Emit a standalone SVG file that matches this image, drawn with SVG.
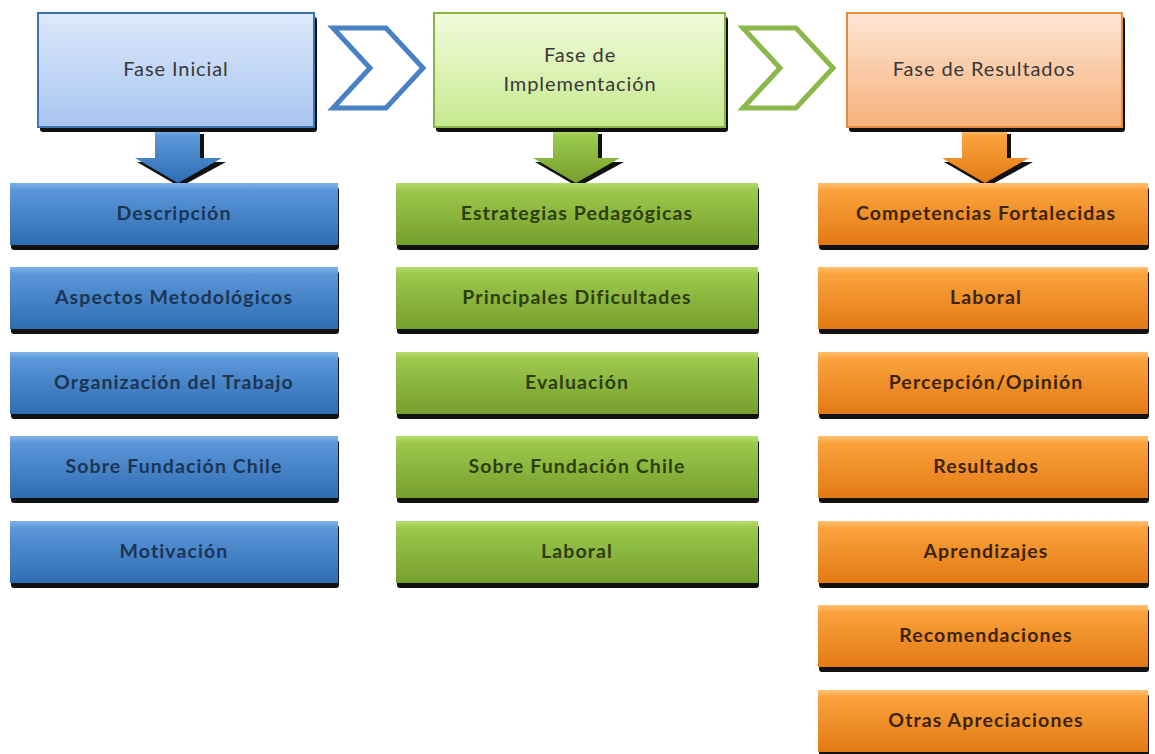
<svg xmlns="http://www.w3.org/2000/svg" width="1155" height="754" viewBox="0 0 1155 754">
<defs>
<linearGradient id="hb" x1="0" y1="0" x2="0" y2="1"><stop offset="0" stop-color="#dde9fb"/><stop offset="1" stop-color="#a8c5f0"/></linearGradient>
<linearGradient id="hg" x1="0" y1="0" x2="0" y2="1"><stop offset="0" stop-color="#f2fbdc"/><stop offset="1" stop-color="#c6e98e"/></linearGradient>
<linearGradient id="ho" x1="0" y1="0" x2="0" y2="1"><stop offset="0" stop-color="#fde6d4"/><stop offset="1" stop-color="#f7b07a"/></linearGradient>
<linearGradient id="bb" x1="0" y1="0" x2="0" y2="1"><stop offset="0" stop-color="#7fb2ea"/><stop offset="0.12" stop-color="#5a96d8"/><stop offset="1" stop-color="#2f6db3"/></linearGradient>
<linearGradient id="bg" x1="0" y1="0" x2="0" y2="1"><stop offset="0" stop-color="#b5dc6a"/><stop offset="0.12" stop-color="#9cc84c"/><stop offset="1" stop-color="#759f2c"/></linearGradient>
<linearGradient id="bo" x1="0" y1="0" x2="0" y2="1"><stop offset="0" stop-color="#ffc070"/><stop offset="0.12" stop-color="#fba23c"/><stop offset="1" stop-color="#e27a14"/></linearGradient>
</defs>
<style>
.sh{fill:#111}
.hbx{stroke-width:2}
.ht{font-family:Lato,"Open Sans",sans-serif;font-size:20px;fill:#383838;text-anchor:middle;letter-spacing:0.9px}
.bt{font-family:Lato,"Open Sans",sans-serif;font-size:19.5px;font-weight:bold;text-anchor:middle;letter-spacing:1.1px}
.tb{fill:#1c3554}
.tg{fill:#2e3d12}
.to{fill:#3c2408}
.chev{fill:#fff;stroke-width:5;stroke-linejoin:miter}
</style>
<rect width="1155" height="754" fill="#fff"/>

<g id="connectors">
<polygon class="chev" points="333,28 386,28 423,68 386,108 333,108 370,68" stroke="#4a80c4"/>
<polygon class="chev" points="743,28 796,28 833,68 796,108 743,108 780,68" stroke="#8ab84a"/>
<g id="arrow-blue">
<polygon class="sh" points="157,134 204,134 204,162 226,162 180,187 137,162 157,162"/>
<polygon points="155,130 200,130 200,158 222,158 178,183 135,158 155,158" fill="url(#bb)"/>
</g>
<g id="arrow-green">
<polygon class="sh" points="555,134 602,134 602,162 624,162 578,187 535,162 555,162"/>
<polygon points="553,130 598,130 598,158 620,158 576,183 533,158 553,158" fill="url(#bg)"/>
</g>
<g id="arrow-orange">
<polygon class="sh" points="964,134 1011,134 1011,162 1033,162 987,187 944,162 964,162"/>
<polygon points="962,130 1007,130 1007,158 1029,158 985,183 942,158 962,158" fill="url(#bo)"/>
</g>
</g>

<g id="fase-inicial">
<rect class="sh" x="40" y="17" width="277" height="115" rx="3"/>
<rect class="hbx" x="38" y="13" width="276" height="114" fill="url(#hb)" stroke="#3d72b4"/>
<text class="ht" x="176" y="76">Fase Inicial</text>
</g>
<g id="fase-implementacion">
<rect class="sh" x="436" y="17" width="292" height="115" rx="3"/>
<rect class="hbx" x="434" y="13" width="291" height="114" fill="url(#hg)" stroke="#87b445"/>
<text class="ht" x="580" y="62">Fase de</text>
<text class="ht" x="580" y="91">Implementación</text>
</g>
<g id="fase-resultados">
<rect class="sh" x="849" y="17" width="276" height="115" rx="3"/>
<rect class="hbx" x="847" y="13" width="275" height="114" fill="url(#ho)" stroke="#e88b3c"/>
<text class="ht" x="984" y="76">Fase de Resultados</text>
</g>

<g id="blue-items">
<g id="b1"><rect class="sh" x="11" y="187" width="328" height="63" rx="3"/><rect x="10" y="183" width="328" height="62" fill="url(#bb)"/><text class="bt tb" x="174" y="220">Descripción</text></g>
<g id="b2"><rect class="sh" x="11" y="271" width="328" height="63" rx="3"/><rect x="10" y="267" width="328" height="62" fill="url(#bb)"/><text class="bt tb" x="174" y="304">Aspectos Metodológicos</text></g>
<g id="b3"><rect class="sh" x="11" y="356" width="328" height="63" rx="3"/><rect x="10" y="352" width="328" height="62" fill="url(#bb)"/><text class="bt tb" x="174" y="389">Organización del Trabajo</text></g>
<g id="b4"><rect class="sh" x="11" y="440" width="328" height="63" rx="3"/><rect x="10" y="436" width="328" height="62" fill="url(#bb)"/><text class="bt tb" x="174" y="473">Sobre Fundación Chile</text></g>
<g id="b5"><rect class="sh" x="11" y="525" width="328" height="63" rx="3"/><rect x="10" y="521" width="328" height="62" fill="url(#bb)"/><text class="bt tb" x="174" y="558">Motivación</text></g>
</g>

<g id="green-items">
<g id="g1"><rect class="sh" x="397" y="187" width="362" height="63" rx="3"/><rect x="396" y="183" width="362" height="62" fill="url(#bg)"/><text class="bt tg" x="577" y="220">Estrategias Pedagógicas</text></g>
<g id="g2"><rect class="sh" x="397" y="271" width="362" height="63" rx="3"/><rect x="396" y="267" width="362" height="62" fill="url(#bg)"/><text class="bt tg" x="577" y="304">Principales Dificultades</text></g>
<g id="g3"><rect class="sh" x="397" y="356" width="362" height="63" rx="3"/><rect x="396" y="352" width="362" height="62" fill="url(#bg)"/><text class="bt tg" x="577" y="389">Evaluación</text></g>
<g id="g4"><rect class="sh" x="397" y="440" width="362" height="63" rx="3"/><rect x="396" y="436" width="362" height="62" fill="url(#bg)"/><text class="bt tg" x="577" y="473">Sobre Fundación Chile</text></g>
<g id="g5"><rect class="sh" x="397" y="525" width="362" height="63" rx="3"/><rect x="396" y="521" width="362" height="62" fill="url(#bg)"/><text class="bt tg" x="577" y="558">Laboral</text></g>
</g>

<g id="orange-items">
<g id="o1"><rect class="sh" x="819" y="187" width="330" height="63" rx="3"/><rect x="818" y="183" width="330" height="62" fill="url(#bo)"/><text class="bt to" x="986" y="220">Competencias Fortalecidas</text></g>
<g id="o2"><rect class="sh" x="819" y="271" width="330" height="63" rx="3"/><rect x="818" y="267" width="330" height="62" fill="url(#bo)"/><text class="bt to" x="986" y="304">Laboral</text></g>
<g id="o3"><rect class="sh" x="819" y="356" width="330" height="63" rx="3"/><rect x="818" y="352" width="330" height="62" fill="url(#bo)"/><text class="bt to" x="986" y="389">Percepción/Opinión</text></g>
<g id="o4"><rect class="sh" x="819" y="440" width="330" height="63" rx="3"/><rect x="818" y="436" width="330" height="62" fill="url(#bo)"/><text class="bt to" x="986" y="473">Resultados</text></g>
<g id="o5"><rect class="sh" x="819" y="525" width="330" height="63" rx="3"/><rect x="818" y="521" width="330" height="62" fill="url(#bo)"/><text class="bt to" x="986" y="558">Aprendizajes</text></g>
<g id="o6"><rect class="sh" x="819" y="609" width="330" height="63" rx="3"/><rect x="818" y="605" width="330" height="62" fill="url(#bo)"/><text class="bt to" x="986" y="642">Recomendaciones</text></g>
<g id="o7"><rect class="sh" x="819" y="694" width="330" height="63" rx="3"/><rect x="818" y="690" width="330" height="62" fill="url(#bo)"/><text class="bt to" x="986" y="727">Otras Apreciaciones</text></g>
</g>
</svg>
